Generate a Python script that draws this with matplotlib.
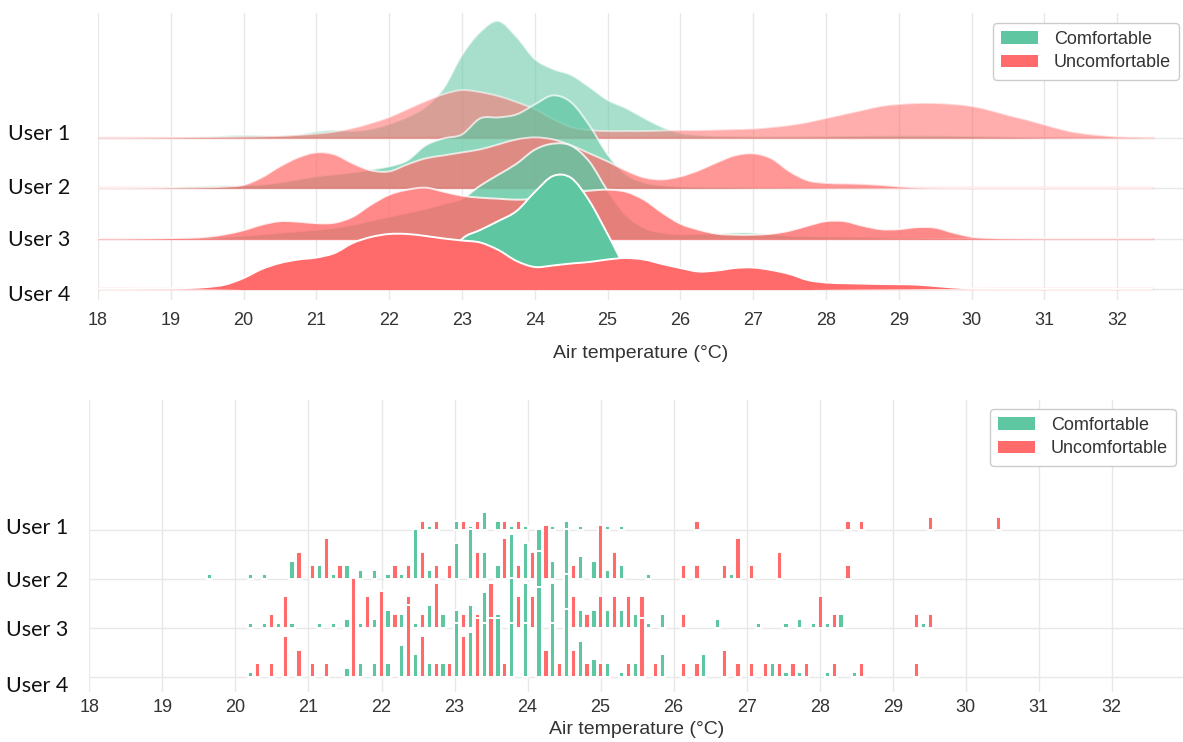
import numpy as np
import matplotlib.pyplot as plt
from matplotlib.patches import Patch, PathPatch
from matplotlib.path import Path
from matplotlib.transforms import blended_transform_factory

plt.rcParams["font.family"] = ["Liberation Sans", "DejaVu Sans"]

users = ["User 1", "User 2", "User 3", "User 4"]
classes = ["Comfortable", "Uncomfortable"]
GREEN = "#5fc6a2"
RED = "#ff6b6b"
temp_ticks = list(range(18, 33))

# ---------------------------------------------------------------------------
# Kernel density estimates of air temperature per user (arbitrary density
# units), evaluated on a 0.25 degC grid from 18 to 32.5 degC
# ---------------------------------------------------------------------------
kde_temp = np.arange(18.0, 32.51, 0.25)

kde_u1_comf = [0.3, 0.3, 0.4, 0.5, 0.7, 1.0, 1.5, 2.3, 3.0, 2.6, 2.2, 3.5,
               6.5, 8.0, 7.0, 9.0, 14, 21, 31, 50, 83, 106, 117, 101,
               79, 69, 63, 51, 38, 30, 20, 11, 5, 3, 2, 1.8,
               1.6, 1.5, 1.5, 1.6, 1.8, 2.0, 2.2, 2.4, 2.5, 2.5, 2.4, 2.2,
               1.9, 1.6, 1.3, 1.0, 0.8, 0.6, 0.5, 0.4, 0.3, 0.3, 0.3]
kde_u1_unc = [0.5, 0.5, 0.6, 0.7, 0.8, 0.9, 1.0, 1.2, 1.5, 1.8, 2.3, 3.2,
              4.5, 6.5, 10, 15, 21, 29, 37, 44, 48, 46, 42, 36,
              29, 19, 11, 8, 7, 7, 7, 7.5, 8, 8, 8.5, 9,
              9.5, 11, 13, 16, 20, 24, 28, 32, 34, 35, 35, 34,
              32, 28, 23, 18.5, 13.5, 8.5, 5, 3, 1.5, 1.0, 0.5]
kde_u2_comf = [0.3, 0.4, 0.6, 0.9, 1.3, 1.9, 2.5, 3.0, 3.2, 4, 6, 9,
               12, 14, 16, 19, 22, 28, 43, 50, 54, 70, 71, 74,
               84, 93, 86, 63, 34, 14, 6, 3, 2, 1.5, 1.3, 1.2,
               1.0, 0.9, 0.8, 0.7, 0.6, 0.5, 0.5, 0.4, 0.4, 0.4, 0.3, 0.3,
               0.3, 0.3, 0.3, 0.3, 0.3, 0.3, 0.3, 0.3, 0.3, 0.3, 0.3]
kde_u2_unc = [0.5, 0.5, 0.5, 0.6, 0.7, 0.9, 1.2, 1.8, 3.5, 11, 22, 31,
              36, 34, 25, 18, 17, 24, 30, 33, 36, 39, 44, 49,
              51, 49, 43, 35, 27, 18, 11, 9, 12, 18, 26, 33,
              35, 30, 17, 8, 5.5, 5, 4.5, 3.5, 2, 1, 0.6, 0.5,
              0.5, 0.5, 0.5, 0.5, 0.5, 0.5, 0.5, 0.5, 0.5, 0.5, 0.5]
kde_u3_comf = [0.3, 0.3, 0.4, 0.5, 0.6, 0.8, 1.0, 1.8, 3, 4.5, 6, 7.5,
               9, 11, 14, 18, 22, 26, 30, 35, 40, 53, 64, 75,
               89, 95, 93, 77, 48, 24, 11, 6, 4.5, 5, 5.5, 6,
               6, 4.5, 3, 2.5, 2.2, 2.0, 1.8, 1.5, 1.3, 1.2, 1.0, 0.8,
               0.6, 0.5, 0.4, 0.4, 0.3, 0.3, 0.3, 0.3, 0.3, 0.3, 0.3]
kde_u3_unc = [0.3, 0.3, 0.4, 0.5, 0.7, 1.0, 2.0, 4.5, 8.5, 14, 17.5, 17,
              15.5, 16, 22, 34, 44, 49, 51, 47, 43, 41, 40, 39,
              40, 43, 46, 48, 49, 47, 39, 26, 15, 9, 5, 4,
              4, 5, 8, 13, 17.5, 17.5, 13, 9.5, 9.5, 11.5, 11, 6,
              2, 0.8, 0.5, 0.4, 0.3, 0.3, 0.3, 0.3, 0.3, 0.3, 0.3]
kde_u4_comf = [0.2, 0.2, 0.2, 0.3, 0.3, 0.4, 0.5, 0.7, 1.0, 1.5, 2.0, 2.5,
               3, 3.5, 4, 5, 6, 8, 12, 24, 50, 59, 68, 78,
               97, 113, 111, 88, 55, 22, 8, 4, 3, 2.5, 2.2, 2,
               1.8, 1.5, 1.2, 1.0, 0.8, 0.7, 0.6, 0.5, 0.4, 0.3, 0.2, 0.2,
               0.2, 0.2, 0.2, 0.2, 0.2, 0.2, 0.2, 0.2, 0.2, 0.2, 0.2]
kde_u4_unc = [0.3, 0.3, 0.4, 0.5, 0.6, 1.0, 2.0, 4.5, 11, 20, 26, 29.5,
              31.5, 36, 46, 52, 55, 55, 53, 50.5, 48.5, 46.5, 39, 28,
              22, 23.5, 25.5, 27, 29.5, 31, 29.5, 25, 21, 17.5, 18.5, 21,
              21.5, 19, 15, 9, 6.5, 5.8, 5.4, 5, 4.8, 4.4, 3, 1.5,
              0.6, 0.4, 0.3, 0.3, 0.3, 0.3, 0.3, 0.3, 0.3, 0.3, 0.3]

kde_comf = [kde_u1_comf, kde_u2_comf, kde_u3_comf, kde_u4_comf]
kde_unc = [kde_u1_unc, kde_u2_unc, kde_u3_unc, kde_u4_unc]

# ---------------------------------------------------------------------------
# Histogram counts: 58 equal bins between 19.6 and 30.5 degC
# ---------------------------------------------------------------------------
hist_lo, hist_hi, n_bins = 19.6, 30.5, 58

cnt_u1_comf = [0, 0, 0, 0, 0, 0, 0, 0, 0, 0,
               0, 0, 0, 0, 0, 0, 1, 0, 2, 1,
               4, 2, 1, 1, 0, 1, 2, 1, 0, 1,
               1, 0, 0, 0, 0, 0, 0, 0, 0, 0,
               0, 0, 0, 0, 0, 0, 0, 0, 0, 0,
               0, 0, 0, 0, 0, 0, 0, 0]
cnt_u1_unc = [0, 0, 0, 0, 0, 0, 0, 0, 0, 0,
              0, 0, 0, 0, 0, 2, 2, 0, 2, 2,
              0, 2, 2, 0, 0, 0, 0, 0, 0, 0,
              0, 0, 0, 0, 0, 2, 0, 0, 0, 0,
              0, 0, 0, 0, 0, 0, 2, 2, 0, 0,
              0, 0, 3, 0, 0, 0, 0, 3]
cnt_u2_comf = [1, 0, 0, 1, 1, 0, 4, 0, 3, 1,
               3, 2, 2, 1, 1, 11, 2, 0, 8, 11,
               6, 3, 10, 8, 11, 4, 11, 5, 4, 2,
               3, 0, 1, 0, 0, 0, 0, 0, 1, 0,
               0, 0, 0, 0, 0, 0, 0, 0, 0, 0,
               0, 0, 0, 0, 0, 0, 0, 0]
cnt_u2_unc = [0, 0, 0, 0, 0, 0, 6, 3, 9, 3,
              0, 0, 0, 3, 3, 6, 3, 3, 0, 6,
              0, 9, 3, 6, 12, 0, 3, 0, 12, 6,
              0, 0, 0, 0, 3, 3, 0, 3, 9, 3,
              0, 6, 0, 0, 0, 0, 3, 0, 0, 0,
              0, 0, 0, 0, 0, 0, 0, 0]
cnt_u3_comf = [0, 0, 0, 1, 1, 1, 1, 0, 1, 1,
               2, 1, 2, 4, 3, 1, 5, 3, 4, 5,
               8, 3, 11, 10, 17, 10, 12, 4, 4, 4,
               4, 3, 1, 3, 0, 0, 0, 2, 0, 0,
               1, 0, 1, 2, 1, 1, 3, 0, 0, 0,
               0, 0, 1, 0, 0, 0, 0, 0]
cnt_u3_unc = [0, 0, 0, 0, 3, 7, 0, 0, 0, 0,
              0, 7, 0, 3, 7, 3, 10, 0, 3, 3,
              10, 0, 7, 7, 0, 0, 7, 3, 7, 7,
              7, 7, 0, 0, 3, 0, 0, 0, 0, 0,
              0, 0, 0, 0, 7, 3, 0, 0, 0, 0,
              0, 3, 3, 0, 0, 0, 0, 0]
cnt_u4_comf = [0, 0, 0, 1, 0, 0, 0, 0, 0, 0,
               2, 3, 3, 3, 7, 5, 3, 3, 12, 10,
               12, 13, 12, 12, 20, 12, 15, 8, 4, 3,
               1, 3, 0, 5, 0, 0, 5, 0, 0, 0,
               0, 3, 1, 1, 0, 1, 0, 1, 0, 0,
               0, 0, 0, 0, 0, 0, 0, 0]
cnt_u4_unc = [0, 0, 0, 3, 3, 9, 6, 3, 3, 0,
              22, 0, 19, 0, 16, 9, 3, 3, 9, 13,
              13, 3, 0, 0, 6, 3, 6, 3, 3, 0,
              3, 13, 3, 0, 3, 3, 0, 6, 3, 3,
              3, 3, 3, 3, 0, 3, 0, 3, 0, 0,
              0, 3, 0, 0, 0, 0, 0, 0]

cnt_comf = [cnt_u1_comf, cnt_u2_comf, cnt_u3_comf, cnt_u4_comf]
cnt_unc = [cnt_u1_unc, cnt_u2_unc, cnt_u3_unc, cnt_u4_unc]

# ---------------------------------------------------------------------------
# Figure layout
# ---------------------------------------------------------------------------
W, H = 1183, 742
fig = plt.figure(figsize=(W / 100, H / 100), dpi=100)
ax_kde = fig.add_axes([98 / W, 1 - 300 / H, (W - 98) / W, 287 / H])
ax_hist = fig.add_axes([89.4 / W, 1 - 692 / H, (W - 89.4) / W, 292 / H])

GRID = "#e8e8e8"
TXT = "#333333"
ridge_alpha = [0.55, 0.7, 0.8, 1.0]


def style_axes(ax, bases, xmax, pad):
    for s in ax.spines.values():
        s.set_visible(False)
    ax.set_xticks(temp_ticks)
    ax.set_xticklabels([str(t) for t in temp_ticks])
    ax.set_yticks(bases)
    ax.set_yticklabels([])
    ax.tick_params(axis="x", length=0, pad=pad, labelsize=13, labelcolor=TXT)
    ax.tick_params(axis="y", length=0)
    ax.grid(True, color=GRID, lw=1.0, zorder=0)
    ax.set_axisbelow(True)
    ax.set_xlim(18, xmax)
    ax.set_xlabel("Air temperature (\u00b0C)", fontsize=14, color=TXT)


def user_labels(ax, bases, right_px, shifts):
    tr = blended_transform_factory(fig.transFigure, ax.transData)
    for name, base, dy in zip(users, bases, shifts):
        ax.text(right_px / W, base + dy, name, transform=tr, ha="right",
                va="center_baseline", fontsize=15.5, color="#111111",
                fontfamily=["Lato", "DejaVu Sans"], clip_on=False)


def add_legend(ax, anchor):
    handles = [Patch(facecolor=GREEN, edgecolor="none", label=classes[0]),
               Patch(facecolor=RED, edgecolor="none", label=classes[1])]
    leg = ax.legend(handles=handles, loc="upper right", bbox_to_anchor=anchor,
                    bbox_transform=fig.transFigure, borderaxespad=0,
                    fontsize=13, frameon=True, fancybox=True,
                    edgecolor="#cccccc", framealpha=1.0,
                    handlelength=2.0, handletextpad=0.9, labelspacing=0.35,
                    borderpad=0.45)
    for t in leg.get_texts():
        t.set_color(TXT)


def smooth_top(x, y):
    """Vertices/codes of a cubic Bezier path passing through every (x, y)."""
    x = np.asarray(x, float)
    y = np.asarray(y, float)
    n = len(x)
    verts = [(x[0], y[0])]
    codes = [Path.MOVETO]
    for k in range(n - 1):
        k0, k2 = max(k - 1, 0), min(k + 2, n - 1)
        dy1 = (y[k + 1] - y[k0]) / 6.0
        dy2 = (y[k2] - y[k]) / 6.0
        lo = min(y[k], y[k + 1])
        c1 = (x[k] + (x[k + 1] - x[k]) / 3.0, max(y[k] + dy1, lo * 0.9))
        c2 = (x[k + 1] - (x[k + 1] - x[k]) / 3.0, max(y[k + 1] - dy2, lo * 0.9))
        verts += [c1, c2, (x[k + 1], y[k + 1])]
        codes += [Path.CURVE4] * 3
    return verts, codes


# ---------------------------------------------------------------------------
# Ridge plot of the densities
# ---------------------------------------------------------------------------
ridge_step = 50.3
kde_bases = [(len(users) - 1 - i) * ridge_step for i in range(len(users))]
for i in range(len(users)):
    base = kde_bases[i]
    a = ridge_alpha[i]
    z = 2 + i
    ax_kde.plot([kde_temp[0], kde_temp[-1]], [base, base], color=RED,
                lw=1.6, alpha=a, zorder=z, solid_capstyle="butt")
    for dens, col in ((kde_comf[i], GREEN), (kde_unc[i], RED)):
        verts, codes = smooth_top(kde_temp, base + np.asarray(dens))
        area = Path([(kde_temp[0], base)] + verts + [(kde_temp[-1], base),
                                                      (kde_temp[0], base)],
                    [Path.MOVETO, Path.LINETO] + codes[1:] +
                    [Path.LINETO, Path.CLOSEPOLY])
        ax_kde.add_patch(PathPatch(area, facecolor=col, edgecolor="none",
                                   alpha=a, zorder=z))
        ax_kde.add_patch(PathPatch(Path(verts, codes), facecolor="none",
                                   edgecolor="white", lw=1.4, alpha=a,
                                   zorder=z))

style_axes(ax_kde, kde_bases, 18 + (W - 98) / 72.8, pad=9)
ax_kde.set_ylim(-11, 276)
ax_kde.xaxis.labelpad = 11
user_labels(ax_kde, kde_bases, 70, [6, 2, 1, -4])
add_legend(ax_kde, (1179 / W, 1 - 23 / H))

# ---------------------------------------------------------------------------
# Stacked rows of per-user histograms (comfortable / uncomfortable dodged)
# ---------------------------------------------------------------------------
hist_step = 48.9
count_unit = 4.5
bin_w = (hist_hi - hist_lo) / n_bins
bin_left = hist_lo + bin_w * np.arange(n_bins)
hist_bases = [(len(users) - 1 - i) * hist_step for i in range(len(users))]
for i in range(len(users)):
    base = hist_bases[i]
    z = 2 + i
    for counts, col, shift in ((cnt_comf[i], GREEN, 0.25),
                               (cnt_unc[i], RED, 0.75)):
        c = np.asarray(counts, dtype=float)
        m = c > 0
        ax_hist.bar(bin_left[m] + shift * bin_w, c[m] * count_unit,
                    width=0.072, bottom=base, color=col, edgecolor="white",
                    linewidth=1.4, zorder=z)

style_axes(ax_hist, hist_bases, 18 + (W - 89.4) / 73.03, pad=5)
ax_hist.set_ylim(-15.3, 276.7)
ax_hist.xaxis.labelpad = 4
user_labels(ax_hist, hist_bases, 68, [4, 0, 0, -7])
add_legend(ax_hist, (1176 / W, 1 - 409 / H))

fig.savefig("out.png", dpi=100)
